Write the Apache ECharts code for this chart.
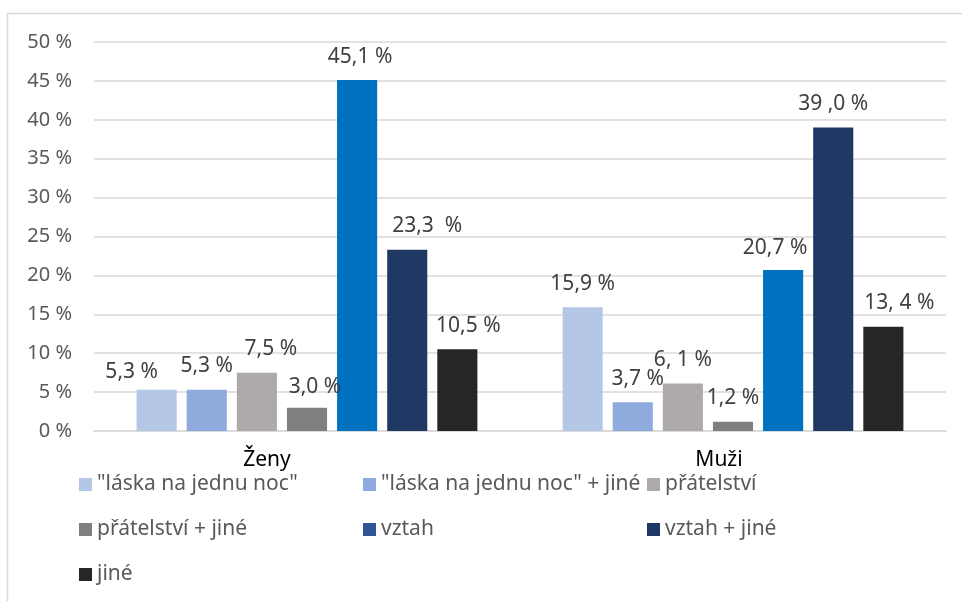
<!DOCTYPE html>
<html>
<head>
<meta charset="utf-8">
<script src="https://cdn.jsdelivr.net/npm/echarts@6/dist/echarts.min.js"></script>
<style>
	html, body { margin: 0; padding: 0; background: #fff; }
	#chart { width: 962px; height: 601px; }
</style>
</head>
<body>
<div id="chart"></div>
<script>
// kategorie a řady
const categories = ["Ženy", "Muži"];
const seriesNames = [
	'"láska na jednu noc"',
	'"láska na jednu noc" + jiné',
	"přátelství",
	"přátelství + jiné",
	"vztah",
	"vztah + jiné",
	"jiné",
];
const valuesZeny = [5.3, 5.3, 7.5, 3.0, 45.1, 23.3, 10.5];
const valuesMuzi = [15.9, 3.7, 6.1, 1.2, 20.7, 39.0, 13.4];
// popisky tak, jak jsou v originále (včetně mezer)
const labelsZeny = ["5,3 %", "5,3 %", "7,5 %", "3,0 %", "45,1 %", "23,3  %", "10,5 %"];
const labelsMuzi = ["15,9 %", "3,7 %", "6, 1 %", "1,2 %", "20,7 %", "39 ,0 %", "13, 4 %"];

const colors = ["#B4C7E7", "#8FAADC", "#AEAAAA", "#7F7F7F", "#0070C0", "#1F3864", "#262626"];
const legendColors = ["#B4C7E7", "#8FAADC", "#AEAAAA", "#7F7F7F", "#2F5597", "#1F3864", "#262626"];
// posun popisků [x, y] podle předlohy
const shiftZeny = [[-25, 6], [0, 0], [14, 0], [8, 3], [3, 0], [20, 0], [11, 0]];
const shiftMuzi = [[0, 0], [5, 0], [0, 0], [0, 0], [-8, 2], [0, 0], [16, 0]];

const chart = echarts.init(document.getElementById("chart"));

const series = seriesNames.map((name, i) => ({
	name: name,
	type: "bar",
	barGap: "25%",
	barCategoryGap: "20%",
	itemStyle: { color: colors[i] },
	data: [
		{ value: valuesZeny[i], label: { formatter: labelsZeny[i], offset: shiftZeny[i] } },
		{ value: valuesMuzi[i], label: { formatter: labelsMuzi[i], offset: shiftMuzi[i] } },
	],
	label: {
		show: true,
		position: "top",
		distance: 13,
		color: "#404040",
		fontSize: 21,
		fontFamily: "Noto Sans",
	},
}));

const option = {
	animation: false,
	backgroundColor: "#fff",
	graphic: [
		{
			type: "rect",
			shape: { x: 7.5, y: 13.5, width: 1000, height: 1000 },
			style: { fill: "none", stroke: "#D9D9D9", lineWidth: 1.5 },
			silent: true,
		},
	],
	grid: { left: 94, right: 16, top: 42, bottom: 170 },
	legend: {
		left: 74,
		top: 457,
		width: 852,
		itemWidth: 13,
		itemHeight: 13,
		itemGap: 0,
		icon: "rect",
		data: seriesNames.map((name, i) => ({ name: name, itemStyle: { color: legendColors[i] } })),
		textStyle: {
			color: "#595959",
			fontSize: 21,
			fontFamily: "Noto Sans",
			width: 266,
			lineHeight: 45,
		},
	},
	xAxis: {
		type: "category",
		data: categories,
		axisLine: { lineStyle: { color: "#D9D9D9", width: 1.5 } },
		axisTick: { show: false },
		axisLabel: {
			margin: 19,
			formatter: (v) => (v === "Ženy" ? "{a|" + v + "}" : "{b|" + v + "}"),
			rich: {
				a: { color: "#000", fontSize: 21, fontFamily: "Noto Sans", padding: [0, 80, 0, 0] },
				b: { color: "#000", fontSize: 21, fontFamily: "Noto Sans", padding: [0, 28, 0, 0] },
			},
		},
	},
	yAxis: {
		type: "value",
		min: 0,
		max: 50,
		interval: 5,
		axisLine: { show: false },
		axisTick: { show: false },
		splitLine: { lineStyle: { color: "#D9D9D9", width: 1.5 } },
		axisLabel: {
			formatter: "{value} %",
			color: "#595959",
			fontSize: 20,
			fontFamily: "Noto Sans",
			margin: 22,
		},
	},
	series: series,
};

chart.setOption(option);
</script>
</body>
</html>
